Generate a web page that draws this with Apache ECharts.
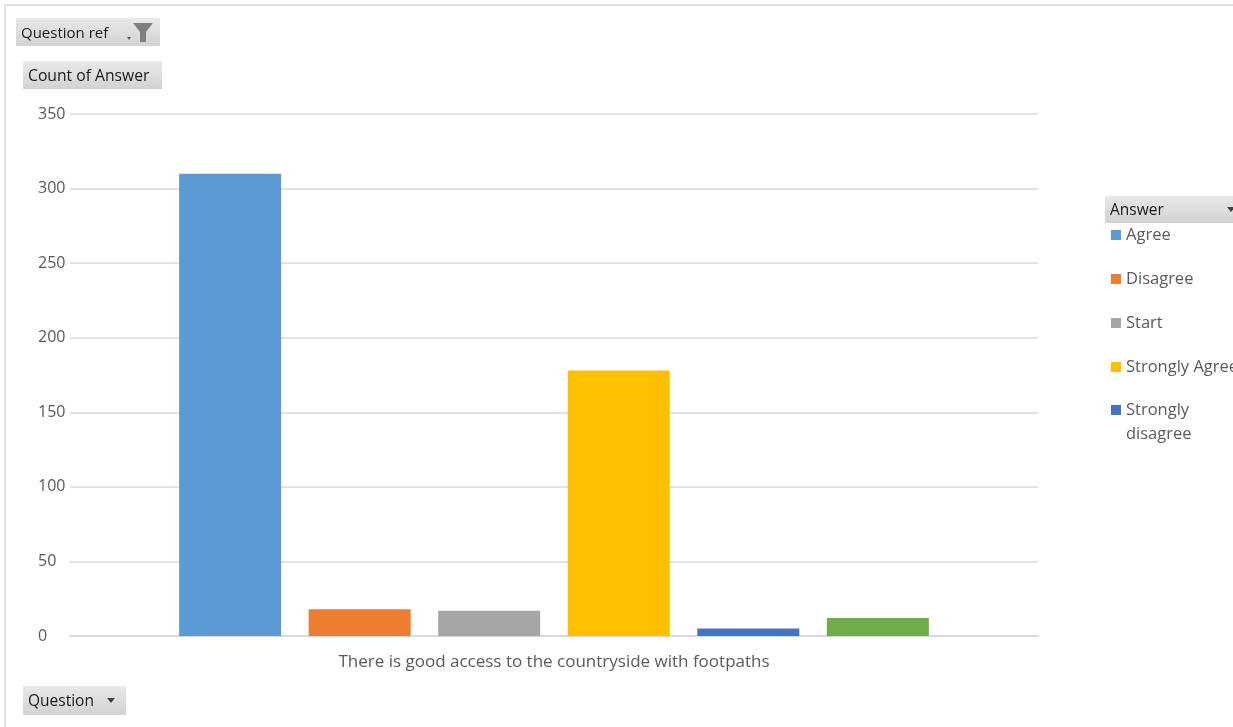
<!DOCTYPE html>
<html>
<head>
<meta charset="utf-8">
<script src="https://cdn.jsdelivr.net/npm/echarts@6/dist/echarts.min.js"></script>
<style>
html,body{margin:0;padding:0;background:#fff;}
#c{width:1233px;height:727px;}
</style>
</head>
<body>
<div id="c"></div>
<script>
const categories = ['There is good access to the countryside with footpaths'];
const seriesNames = ['Agree', 'Disagree', 'Start', 'Strongly Agree', 'Strongly disagree', '(blank)'];
const seriesValues = [310, 18, 17, 178, 5, 12];
const seriesColors = ['#5B9BD5', '#ED7D31', '#A5A5A5', '#FFC000', '#4472C4', '#70AD47'];
const yTicks = { min: 0, max: 350, interval: 50 };

const FONT = '"Open Sans", "Noto Sans", sans-serif';
const chart = echarts.init(document.getElementById('c'), null, { renderer: 'canvas' });

function button(x, y, w, h, label, size, extra) {
  return [
    {
      type: 'rect', shape: { x: x, y: y, width: w, height: h }, z: 10,
      style: {
        fill: new echarts.graphic.LinearGradient(0, 0, 0, 1, [
          { offset: 0, color: '#e9e9e9' }, { offset: 1, color: '#d2d2d2' }
        ])
      }
    },
    {
      type: 'text', x: x + 5, y: y + h / 2 + 1.5, z: 11,
      style: { text: label, fill: '#1a1a1a', font: size + 'px ' + FONT, verticalAlign: 'middle', align: 'left' }
    }
  ].concat(extra || []);
}

const graphics = [].concat(
  [{ type: 'rect', shape: { x: 5, y: 5, width: 1240, height: 740 }, z: 0, silent: true,
     style: { fill: 'none', stroke: '#d9d9d9', lineWidth: 1.5 } }],
  button(16, 18, 144, 28, 'Question ref', 15, [
    { type: 'polygon', z: 12, shape: { points: [[127, 37], [131, 37], [129, 40]] }, style: { fill: '#595959' } },
    { type: 'polygon', z: 12, shape: { points: [[133, 23], [153, 23], [146, 32], [146, 42], [140, 42], [140, 32]] }, style: { fill: '#7f7f7f' } }
  ]),
  button(23, 61, 139, 28, 'Count of Answer', 15.7),
  button(23, 686, 103, 29, 'Question', 15.5, [
    { type: 'polygon', z: 12, shape: { points: [[107, 698], [115, 698], [111, 703]] }, style: { fill: '#404040' } }
  ]),
  button(1105, 196, 140, 27, 'Answer', 15.5, [
    { type: 'polygon', z: 12, shape: { points: [[1227, 207], [1235, 207], [1231, 212]] }, style: { fill: '#404040' } }
  ])
);

const series = seriesNames.map((name, i) => ({
  name: name,
  type: 'bar',
  data: [seriesValues[i]],
  barWidth: 102,
  barGap: '27%',
  itemStyle: { color: seriesColors[i] },
  emphasis: { disabled: true }
}));

chart.setOption({
  animation: false,
  textStyle: { fontFamily: FONT },
  grid: { left: 70, right: 195, top: 114, bottom: 91, containLabel: false },
  legend: [
    {
      data: seriesNames.slice(0, 4),
      orient: 'vertical', left: 1111, top: 225, padding: 0,
      itemWidth: 10, itemHeight: 10, itemGap: 24, icon: 'rect',
      textStyle: { color: '#595959', fontSize: 16.5, lineHeight: 20, fontFamily: FONT }
    },
    {
      data: [seriesNames[4]],
      orient: 'vertical', left: 1111, top: 374, padding: 0,
      itemWidth: 10, itemHeight: 10, icon: 'rect',
      formatter: function (n) { return '\u00a0\n' + n.replace(' ', '\n'); },
      textStyle: { color: '#595959', fontSize: 16.5, lineHeight: 24, fontFamily: FONT }
    }
  ],
  xAxis: {
    type: 'category',
    data: categories,
    axisLine: { lineStyle: { color: '#d9d9d9', width: 2 } },
    axisTick: { show: false },
    axisLabel: { color: '#595959', fontSize: 17, margin: 18, fontFamily: FONT }
  },
  yAxis: {
    type: 'value',
    min: yTicks.min, max: yTicks.max, interval: yTicks.interval,
    axisLine: { show: false },
    axisTick: { show: false },
    splitLine: { lineStyle: { color: '#d9d9d9', width: 1.5 } },
    axisLabel: { color: '#595959', fontSize: 16, align: 'left', margin: 32, fontFamily: FONT }
  },
  graphic: graphics,
  series: series
});
</script>
</body>
</html>
